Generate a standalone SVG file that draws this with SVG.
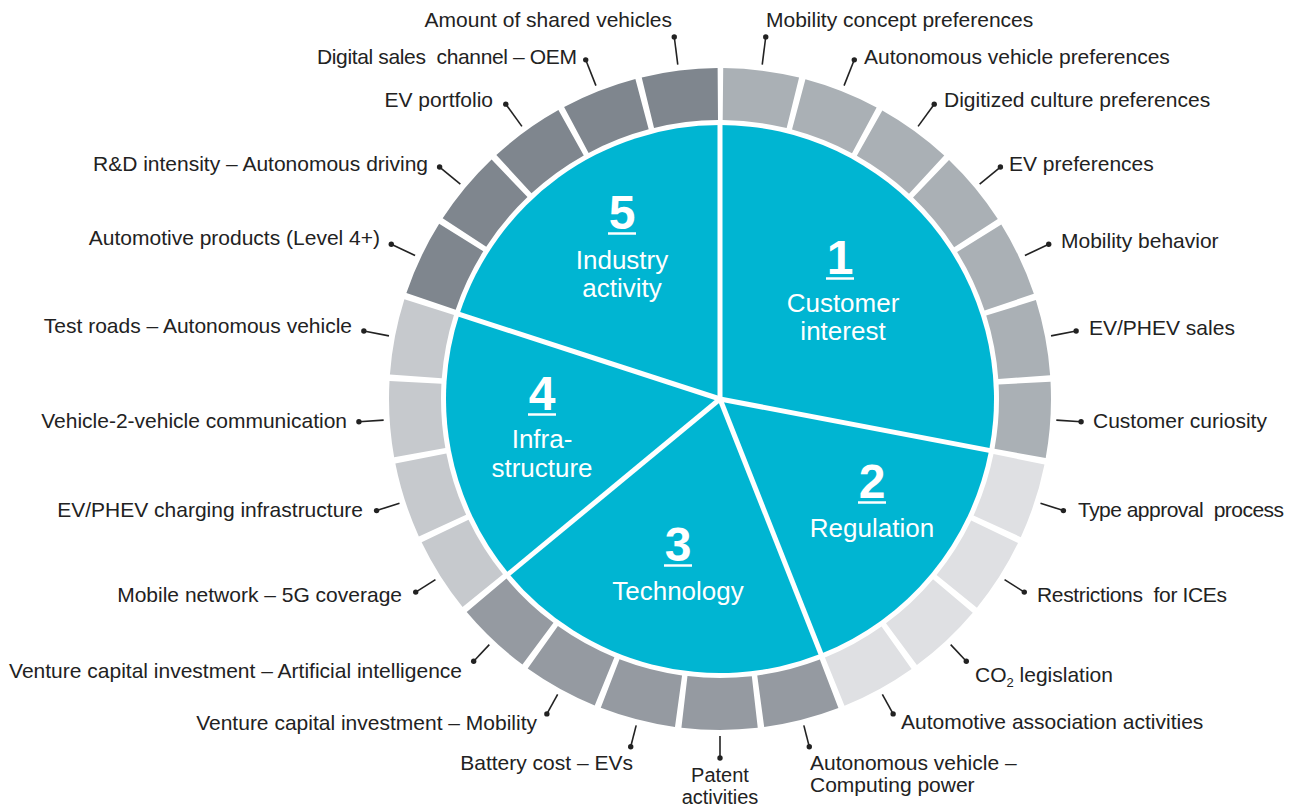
<svg xmlns="http://www.w3.org/2000/svg" width="1295" height="809" viewBox="0 0 1295 809">
<style>
  text { font-family: "Liberation Sans", Arial, sans-serif; }
  .lbl { font-size: 21px; fill: #222; }
  .end { text-anchor: end; }
  .mid { text-anchor: middle; }
  .num { font-size: 48px; font-weight: bold; fill: #fff; text-anchor: middle; }
  .sec { font-size: 26px; fill: #fff; text-anchor: middle; }
  .ul { stroke: #fff; stroke-width: 2.5; }
  .wedge { fill: #00b5d2; }
  .div { stroke: #fff; stroke-width: 5; stroke-linecap: butt; }
  .ring { fill: none; stroke-width: 52; }
  .lead { stroke: #222; stroke-width: 1.6; fill: none; }
  .dot { fill: #222; }
</style>
<rect width="1295" height="809" fill="#fff"/>

<g id="sector-1-customer-interest">
  <path class="wedge" d="M720,399 L720,125 A274,274 0 0,1 989.15,450.34 Z"/>
  <circle class="ring" cx="720" cy="399" r="305" transform="rotate(-90 720 399)" stroke="#aab0b5" stroke-dasharray="70.6549 6 70.6549 6 70.6549 6 70.6549 6 70.6549 6 70.6549 6 70.6549 1385.7873" stroke-dashoffset="-3"/>
  <text class="num" x="840" y="274">1</text>
  <line class="ul" x1="826" y1="278.5" x2="854" y2="278.5"/>
  <text class="sec" x="843" y="312">Customer</text>
  <text class="sec" x="843" y="340">interest</text>
</g>

<g id="sector-2-regulation">
  <path class="wedge" d="M720,399 L989.15,450.34 A274,274 0 0,1 820.87,653.76 Z"/>
  <circle class="ring" cx="720" cy="399" r="305" transform="rotate(-90 720 399)" stroke="#dfe0e3" stroke-dasharray="70.6549 6 70.6549 6 70.6549 6 70.6549 1615.752" stroke-dashoffset="-539.584"/>
  <text class="num" x="872" y="498">2</text>
  <line class="ul" x1="858" y1="502.5" x2="886" y2="502.5"/>
  <text class="sec" x="872" y="537">Regulation</text>
</g>

<g id="sector-3-technology">
  <path class="wedge" d="M720,399 L820.87,653.76 A274,274 0 0,1 508.88,573.65 Z"/>
  <circle class="ring" cx="720" cy="399" r="305" transform="rotate(-90 720 399)" stroke="#959aa1" stroke-dasharray="70.6549 6 70.6549 6 70.6549 6 70.6549 6 70.6549 1539.0971" stroke-dashoffset="-846.204"/>
  <text class="num" x="678" y="561">3</text>
  <line class="ul" x1="664" y1="565.5" x2="692" y2="565.5"/>
  <text class="sec" x="678" y="600">Technology</text>
</g>

<g id="sector-4-infrastructure">
  <path class="wedge" d="M720,399 L508.88,573.65 A274,274 0 0,1 459.41,314.33 Z"/>
  <circle class="ring" cx="720" cy="399" r="305" transform="rotate(-90 720 399)" stroke="#c6c9cd" stroke-dasharray="70.6549 6 70.6549 6 70.6549 6 70.6549 1615.752" stroke-dashoffset="-1229.478"/>
  <text class="num" x="542" y="410">4</text>
  <line class="ul" x1="528" y1="414.5" x2="556" y2="414.5"/>
  <text class="sec" x="542" y="448">Infra-</text>
  <text class="sec" x="542" y="477">structure</text>
</g>

<g id="sector-5-industry-activity">
  <path class="wedge" d="M720,399 L459.41,314.33 A274,274 0 0,1 720,125 Z"/>
  <circle class="ring" cx="720" cy="399" r="305" transform="rotate(-90 720 399)" stroke="#7f868e" stroke-dasharray="70.6549 6 70.6549 6 70.6549 6 70.6549 6 70.6549 1539.0971" stroke-dashoffset="-1536.097"/>
  <text class="num" x="622" y="229">5</text>
  <line class="ul" x1="608" y1="233.5" x2="636" y2="233.5"/>
  <text class="sec" x="622" y="269">Industry</text>
  <text class="sec" x="622" y="297">activity</text>
</g>

<g id="sector-dividers">
  <line class="div" x1="720" y1="399" x2="720" y2="121"/>
  <line class="div" x1="720" y1="399" x2="993.08" y2="451.09"/>
  <line class="div" x1="720" y1="399" x2="822.34" y2="657.48"/>
  <line class="div" x1="720" y1="399" x2="505.8" y2="576.2"/>
  <line class="div" x1="720" y1="399" x2="455.61" y2="313.09"/>
</g>

<g id="connectors">
  <line class="lead" x1="762.24" y1="64.66" x2="765.74" y2="36.9"/><circle class="dot" cx="765.74" cy="36.9" r="2.7"/>
  <line class="lead" x1="844.06" y1="85.66" x2="854.29" y2="59.83"/><circle class="dot" cx="854.29" cy="59.83" r="2.7"/>
  <line class="lead" x1="918.09" y1="126.36" x2="934.21" y2="104.17"/><circle class="dot" cx="934.21" cy="104.17" r="2.7"/>
  <line class="lead" x1="979.66" y1="184.19" x2="1000.4" y2="167.04"/><circle class="dot" cx="1000.4" cy="167.04" r="2.7"/>
  <line class="lead" x1="1024.93" y1="255.51" x2="1048.71" y2="244.32"/><circle class="dot" cx="1048.71" cy="244.32" r="2.7"/>
  <line class="lead" x1="1051.03" y1="335.85" x2="1076.14" y2="331.06"/><circle class="dot" cx="1076.14" cy="331.06" r="2.7"/>
  <line class="lead" x1="1056.34" y1="420.16" x2="1081.1" y2="421.72"/><circle class="dot" cx="1081.1" cy="421.72" r="2.7"/>
  <line class="lead" x1="1040.51" y1="503.14" x2="1063.4" y2="510.58"/><circle class="dot" cx="1063.4" cy="510.58" r="2.7"/>
  <line class="lead" x1="1004.54" y1="579.57" x2="1024.29" y2="592.11"/><circle class="dot" cx="1024.29" cy="592.11" r="2.7"/>
  <line class="lead" x1="950.69" y1="644.66" x2="966.31" y2="661.29"/><circle class="dot" cx="966.31" cy="661.29" r="2.7"/>
  <line class="lead" x1="882.35" y1="694.32" x2="893.13" y2="713.92"/><circle class="dot" cx="893.13" cy="713.92" r="2.7"/>
  <line class="lead" x1="803.81" y1="725.41" x2="809.3" y2="746.81"/><circle class="dot" cx="809.3" cy="746.81" r="2.7"/>
  <line class="lead" x1="720" y1="736" x2="720" y2="758"/><circle class="dot" cx="720" cy="758" r="2.7"/>
  <line class="lead" x1="636.19" y1="725.41" x2="630.7" y2="746.81"/><circle class="dot" cx="630.7" cy="746.81" r="2.7"/>
  <line class="lead" x1="557.65" y1="694.32" x2="546.87" y2="713.92"/><circle class="dot" cx="546.87" cy="713.92" r="2.7"/>
  <line class="lead" x1="489.31" y1="644.66" x2="473.69" y2="661.29"/><circle class="dot" cx="473.69" cy="661.29" r="2.7"/>
  <line class="lead" x1="435.46" y1="579.57" x2="415.71" y2="592.11"/><circle class="dot" cx="415.71" cy="592.11" r="2.7"/>
  <line class="lead" x1="399.49" y1="503.14" x2="376.6" y2="510.58"/><circle class="dot" cx="376.6" cy="510.58" r="2.7"/>
  <line class="lead" x1="383.66" y1="420.16" x2="358.9" y2="421.72"/><circle class="dot" cx="358.9" cy="421.72" r="2.7"/>
  <line class="lead" x1="388.97" y1="335.85" x2="363.86" y2="331.06"/><circle class="dot" cx="363.86" cy="331.06" r="2.7"/>
  <line class="lead" x1="415.07" y1="255.51" x2="391.29" y2="244.32"/><circle class="dot" cx="391.29" cy="244.32" r="2.7"/>
  <line class="lead" x1="460.34" y1="184.19" x2="439.6" y2="167.04"/><circle class="dot" cx="439.6" cy="167.04" r="2.7"/>
  <line class="lead" x1="521.91" y1="126.36" x2="505.79" y2="104.17"/><circle class="dot" cx="505.79" cy="104.17" r="2.7"/>
  <line class="lead" x1="595.94" y1="85.66" x2="585.71" y2="59.83"/><circle class="dot" cx="585.71" cy="59.83" r="2.7"/>
  <line class="lead" x1="677.76" y1="64.66" x2="674.26" y2="36.9"/><circle class="dot" cx="674.26" cy="36.9" r="2.7"/>
</g>

<g id="labels">
  <g id="label-mobility-concept"><text class="lbl" x="766" y="27">Mobility concept preferences</text></g>
  <g id="label-autonomous-preferences"><text class="lbl" x="864" y="64">Autonomous vehicle preferences</text></g>
  <g id="label-digitized-culture"><text class="lbl" x="944" y="107">Digitized culture preferences</text></g>
  <g id="label-ev-preferences"><text class="lbl" x="1009" y="171">EV preferences</text></g>
  <g id="label-mobility-behavior"><text class="lbl" x="1061" y="248">Mobility behavior</text></g>
  <g id="label-ev-phev-sales"><text class="lbl" x="1089" y="335">EV/PHEV sales</text></g>
  <g id="label-customer-curiosity"><text class="lbl" x="1093" y="428">Customer curiosity</text></g>
  <g id="label-type-approval"><text class="lbl" x="1078" y="517" xml:space="preserve" textLength="206" lengthAdjust="spacing">Type approval  process</text></g>
  <g id="label-restrictions"><text class="lbl" x="1037" y="602" xml:space="preserve" textLength="190" lengthAdjust="spacing">Restrictions  for ICEs</text></g>
  <g id="label-co2"><text class="lbl" x="975" y="682">CO<tspan font-size="13" dy="5">2</tspan><tspan dy="-5"> legislation</tspan></text></g>
  <g id="label-association"><text class="lbl" x="901" y="729">Automotive association activities</text></g>
  <g id="label-computing-power"><text class="lbl" x="810" y="770">Autonomous vehicle –</text><text class="lbl" x="810" y="792">Computing power</text></g>
  <g id="label-patent"><text class="lbl mid" x="720" y="782" style="font-size:20px">Patent</text><text class="lbl mid" x="720" y="804" style="font-size:20px">activities</text></g>
  <g id="label-battery"><text class="lbl end" x="633" y="770">Battery cost – EVs</text></g>
  <g id="label-vc-mobility"><text class="lbl end" x="537" y="730">Venture capital investment – Mobility</text></g>
  <g id="label-vc-ai"><text class="lbl end" x="462" y="678">Venture capital investment – Artificial intelligence</text></g>
  <g id="label-5g"><text class="lbl end" x="402" y="602">Mobile network – 5G coverage</text></g>
  <g id="label-charging"><text class="lbl end" x="363" y="517">EV/PHEV charging infrastructure</text></g>
  <g id="label-v2v"><text class="lbl end" x="347" y="428">Vehicle-2-vehicle communication</text></g>
  <g id="label-test-roads"><text class="lbl end" x="352" y="333">Test roads – Autonomous vehicle</text></g>
  <g id="label-level4"><text class="lbl end" x="380" y="245">Automotive products (Level 4+)</text></g>
  <g id="label-rd"><text class="lbl end" x="428" y="171">R&amp;D intensity – Autonomous driving</text></g>
  <g id="label-ev-portfolio"><text class="lbl end" x="493" y="107">EV portfolio</text></g>
  <g id="label-digital-sales"><text class="lbl end" x="577" y="64" xml:space="preserve" textLength="260" lengthAdjust="spacing">Digital sales  channel – OEM</text></g>
  <g id="label-shared-vehicles"><text class="lbl end" x="672" y="27">Amount of shared vehicles</text></g>
</g>
</svg>
